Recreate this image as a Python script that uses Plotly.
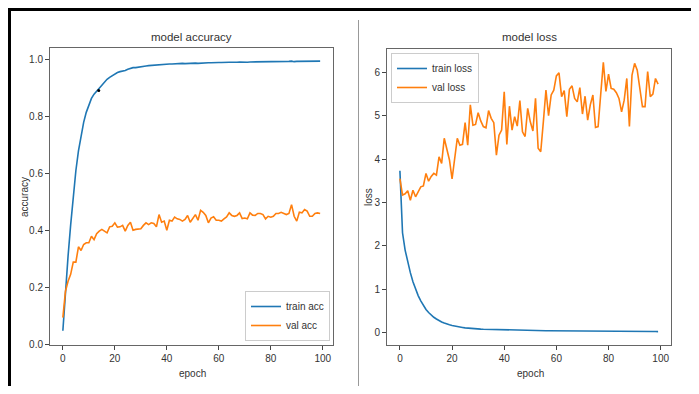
import plotly.graph_objects as go

epochs = list(range(100))

train_acc = [0.048, 0.19, 0.31, 0.42, 0.52, 0.61, 0.68, 0.735, 0.78, 0.815,
             0.843, 0.864, 0.879, 0.889, 0.899, 0.912, 0.922, 0.931, 0.938, 0.944,
             0.951, 0.955, 0.958, 0.959, 0.962, 0.966, 0.969, 0.972, 0.972, 0.974,
             0.976, 0.977, 0.978, 0.979, 0.980, 0.981, 0.982, 0.982, 0.983, 0.984,
             0.984, 0.985, 0.985, 0.986, 0.985, 0.986, 0.987, 0.986, 0.987, 0.987,
             0.988, 0.988, 0.987, 0.988, 0.989, 0.988, 0.989, 0.989, 0.990, 0.989,
             0.990, 0.990, 0.991, 0.990, 0.991, 0.991, 0.990, 0.991, 0.992, 0.991,
             0.992, 0.991, 0.992, 0.992, 0.993, 0.992, 0.993, 0.992, 0.993, 0.993,
             0.992, 0.993, 0.994, 0.993, 0.993, 0.994, 0.993, 0.994, 0.995, 0.993,
             0.994, 0.994, 0.995, 0.994, 0.994, 0.995, 0.994, 0.995, 0.994, 0.995]

val_acc = [0.094, 0.187, 0.222, 0.246, 0.289, 0.289, 0.343, 0.330, 0.351, 0.357,
           0.357, 0.380, 0.368, 0.389, 0.398, 0.404, 0.398, 0.392, 0.413, 0.415,
           0.427, 0.412, 0.413, 0.418, 0.398, 0.418, 0.429, 0.401, 0.404, 0.404,
           0.406, 0.418, 0.427, 0.421, 0.427, 0.425, 0.413, 0.456, 0.429, 0.433,
           0.401, 0.436, 0.433, 0.447, 0.441, 0.439, 0.433, 0.439, 0.453, 0.429,
           0.441, 0.456, 0.436, 0.471, 0.464, 0.453, 0.427, 0.444, 0.448, 0.436,
           0.436, 0.433, 0.441, 0.448, 0.462, 0.453, 0.450, 0.453, 0.462, 0.442,
           0.444, 0.441, 0.462, 0.454, 0.453, 0.460, 0.460, 0.456, 0.441, 0.450,
           0.447, 0.450, 0.460, 0.460, 0.464, 0.460, 0.456, 0.460, 0.491, 0.450,
           0.433, 0.464, 0.462, 0.474, 0.468, 0.450, 0.450, 0.460, 0.462, 0.460]

train_loss = [3.73, 2.30, 1.90, 1.62, 1.38, 1.17, 0.99, 0.85, 0.73, 0.62,
              0.53, 0.46, 0.40, 0.35, 0.31, 0.27, 0.24, 0.215, 0.19, 0.175,
              0.16, 0.145, 0.135, 0.125, 0.115, 0.105, 0.098, 0.092, 0.088, 0.085,
              0.080, 0.077, 0.074, 0.072, 0.070, 0.068, 0.066, 0.064, 0.061, 0.060,
              0.058, 0.056, 0.055, 0.053, 0.052, 0.051, 0.050, 0.049, 0.047, 0.046,
              0.045, 0.044, 0.043, 0.043, 0.042, 0.041, 0.040, 0.040, 0.039, 0.038,
              0.037, 0.037, 0.036, 0.035, 0.035, 0.034, 0.033, 0.033, 0.032, 0.032,
              0.031, 0.031, 0.030, 0.030, 0.029, 0.029, 0.028, 0.028, 0.027, 0.027,
              0.026, 0.026, 0.025, 0.025, 0.025, 0.024, 0.024, 0.023, 0.023, 0.023,
              0.022, 0.022, 0.022, 0.021, 0.021, 0.021, 0.020, 0.020, 0.020, 0.019]

val_loss = [3.55, 3.17, 3.20, 3.27, 3.05, 3.28, 3.13, 3.25, 3.36, 3.38,
            3.67, 3.49, 3.60, 3.67, 3.63, 4.05, 3.90, 4.48, 4.22, 3.98,
            3.54, 3.98, 4.48, 4.32, 4.34, 4.84, 4.32, 5.25, 4.78, 4.80,
            5.07, 4.88, 4.75, 4.72, 5.12, 4.94, 4.84, 4.09, 4.55, 4.67,
            5.55, 4.34, 5.22, 4.67, 4.98, 4.76, 5.35, 4.63, 4.52, 5.17,
            4.86, 4.65, 5.40, 4.25, 4.17, 4.86, 5.59, 5.00, 5.48, 5.59,
            5.92, 5.99, 5.44, 5.58, 4.98, 5.61, 5.69, 5.40, 5.32, 5.65,
            5.04, 5.45, 4.90, 5.25, 5.48, 4.73, 4.75, 5.50, 6.23, 5.56,
            5.96, 5.63, 5.61, 5.53, 5.40, 5.09, 5.36, 5.86, 4.75, 5.94,
            6.21, 6.05, 5.63, 5.21, 5.21, 6.02, 5.44, 5.50, 5.86, 5.73]

dot_epoch = [13.8]
dot_acc = [0.892]

x_ticks = [0, 20, 40, 60, 80, 100]
acc_ticks = [0.0, 0.2, 0.4, 0.6, 0.8, 1.0]
acc_tick_labels = ["0.0", "0.2", "0.4", "0.6", "0.8", "1.0"]
loss_ticks = [0, 1, 2, 3, 4, 5, 6]

BLUE = "#1f77b4"
ORANGE = "#ff7f0e"
FONT = "Liberation Sans, Arial, sans-serif"
OFF = 8  # the page body adds an 8px margin; positions below are screen pixels
W, H = 699 - 2 * OFF, 394 - 2 * OFF

fig = go.Figure()
fig.add_trace(go.Scatter(x=epochs, y=train_acc, mode="lines", name="train acc",
                         line=dict(color=BLUE, width=1.6), xaxis="x", yaxis="y", legend="legend"))
fig.add_trace(go.Scatter(x=epochs, y=val_acc, mode="lines", name="val acc",
                         line=dict(color=ORANGE, width=1.6), xaxis="x", yaxis="y", legend="legend"))
fig.add_trace(go.Scatter(x=dot_epoch, y=dot_acc, mode="markers", showlegend=False,
                         marker=dict(color="black", size=3), xaxis="x", yaxis="y"))
fig.add_trace(go.Scatter(x=epochs, y=train_loss, mode="lines", name="train loss",
                         line=dict(color=BLUE, width=1.6), xaxis="x2", yaxis="y2", legend="legend2"))
fig.add_trace(go.Scatter(x=epochs, y=val_loss, mode="lines", name="val loss",
                         line=dict(color=ORANGE, width=1.6), xaxis="x2", yaxis="y2", legend="legend2"))

def px_x(p):
    return (p - OFF) / W

def px_y(p):
    return 1 - (p - OFF) / H

axis_common = dict(showgrid=False, zeroline=False, showline=True, mirror=True,
                   linecolor="#666", linewidth=1, ticks="outside", ticklen=4,
                   tickcolor="#444", tickwidth=1, automargin=False,
                   tickfont=dict(family=FONT, size=10, color="#333"))

fig.update_layout(
    width=W, height=H, autosize=False,
    margin=dict(l=0, r=0, t=0, b=0),
    paper_bgcolor="white", plot_bgcolor="white",
    font=dict(family=FONT, color="#333"),
    xaxis=dict(domain=[px_x(50), px_x(333)], range=[-4.95, 103.95], anchor="y",
               tickvals=x_ticks, **axis_common),
    yaxis=dict(domain=[px_y(345), px_y(48)], range=[-0.002, 1.041], anchor="x",
               tickvals=acc_ticks, ticktext=acc_tick_labels, **axis_common),
    xaxis2=dict(domain=[px_x(387), px_x(671)], range=[-4.95, 103.95], anchor="y2",
                tickvals=x_ticks, **axis_common),
    yaxis2=dict(domain=[px_y(345), px_y(49)], range=[-0.29, 6.54], anchor="x2",
                tickvals=loss_ticks, **axis_common),
    legend=dict(x=px_x(330), y=px_y(341), xanchor="right", yanchor="bottom",
                bgcolor="white", bordercolor="#ccc", borderwidth=1, itemwidth=30,
                font=dict(family=FONT, size=10, color="#333"), tracegroupgap=0),
    legend2=dict(x=px_x(391), y=px_y(53), xanchor="left", yanchor="top",
                 bgcolor="white", bordercolor="#ccc", borderwidth=1, itemwidth=30,
                 font=dict(family=FONT, size=10, color="#333"), tracegroupgap=0),
    showlegend=True,
)

annots = [
    dict(text="model accuracy", x=px_x(191), y=px_y(37), size=11.5),
    dict(text="model loss", x=px_x(529), y=px_y(37), size=11.5),
    dict(text="epoch", x=px_x(192), y=px_y(373), size=10),
    dict(text="epoch", x=px_x(530), y=px_y(373), size=10),
]
for a in annots:
    fig.add_annotation(text=a["text"], x=a["x"], y=a["y"], xref="paper", yref="paper",
                       showarrow=False, xanchor="center", yanchor="middle",
                       font=dict(family=FONT, size=a["size"], color="#333"))
fig.add_annotation(text="accuracy", x=px_x(24), y=px_y(197), xref="paper", yref="paper",
                   showarrow=False, textangle=-90, xanchor="center", yanchor="middle",
                   font=dict(family=FONT, size=10, color="#333"))
fig.add_annotation(text="loss", x=px_x(368), y=px_y(197), xref="paper", yref="paper",
                   showarrow=False, textangle=-90, xanchor="center", yanchor="middle",
                   font=dict(family=FONT, size=10, color="#333"))

# page frame lines (top and left black border, grey divider)
fig.add_shape(type="line", xref="paper", yref="paper", x0=px_x(8), x1=1, y0=px_y(9.5), y1=px_y(9.5),
              line=dict(color="black", width=3))
fig.add_shape(type="line", xref="paper", yref="paper", x0=px_x(9.5), x1=px_x(9.5), y0=px_y(8), y1=0,
              line=dict(color="black", width=3))
fig.add_shape(type="line", xref="paper", yref="paper", x0=px_x(358.5), x1=px_x(358.5), y0=px_y(20), y1=0,
              line=dict(color="#999", width=1))

fig.write_html("out.html")
